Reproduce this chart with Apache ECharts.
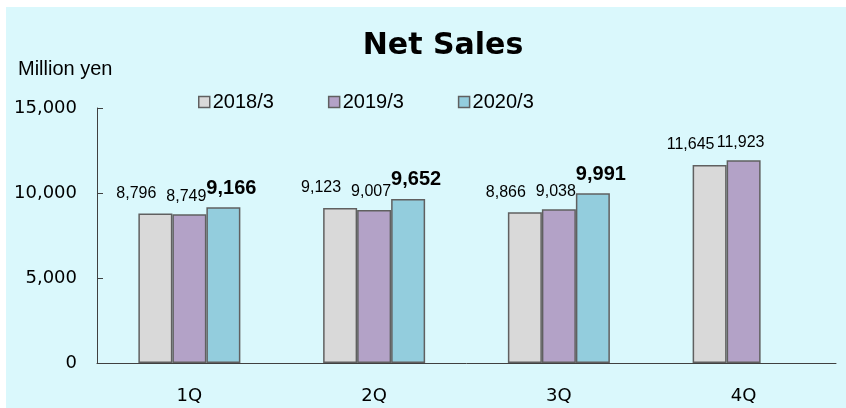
<!DOCTYPE html>
<html>
<head>
<meta charset="utf-8">
<script src="https://cdn.jsdelivr.net/npm/echarts@6/dist/echarts.min.js"></script>
<style>
  html, body { margin: 0; padding: 0; background: #fff; }
  #wrap { position: relative; width: 846px; height: 408px; background: #fff; }
  #chart { position: absolute; left: 6px; top: 7px; width: 840px; height: 401px; }
</style>
</head>
<body>
<div id="wrap"><div id="chart"></div></div>
<script>
// quarters and net sales per fiscal year (million yen)
const quarters = ['1Q', '2Q', '3Q', '4Q'];
const fy2018 = [8796, 9123, 8866, 11645];
const fy2019 = [8749, 9007, 9038, 11923];
const fy2020 = [9166, 9652, 9991, null];
const yTicks = [0, 5000, 10000, 15000];

const AXIS = '#404040';
const BORDER = '#606060';

const chart = echarts.init(document.getElementById('chart'), null, { renderer: 'canvas' });

function fmt(v) {
  return v.toLocaleString('en-US');
}

function bar(name, data, color, labelStyle) {
  return {
    name: name,
    type: 'bar',
    data: data,
    barWidth: 34,
    barGap: '0%',
    itemStyle: { color: color, borderColor: BORDER, borderWidth: 1.5 },
    label: Object.assign({
      show: true,
      position: 'top',
      color: '#000',
      fontFamily: 'Liberation Sans, Arial, sans-serif',
      fontSize: 16,
      formatter: p => (p.value == null ? '' : fmt(p.value))
    }, labelStyle)
  };
}

chart.setOption({
  backgroundColor: '#DAF8FC',
  animation: false,
  title: {
    text: 'Net Sales',
    left: 432,
    top: 19,
    textAlign: 'center',
    textStyle: { fontFamily: 'DejaVu Sans', fontWeight: 'bold', fontSize: 30, color: '#000' }
  },
  graphic: [{
    type: 'text',
    left: 12,
    top: 52,
    style: { text: 'Million yen', fontFamily: 'Liberation Sans, Arial', fontSize: 20, fill: '#000' }
  }],
  legend: {
    left: 187,
    top: 80,
    itemWidth: 11,
    itemHeight: 11,
    itemGap: 54,
    icon: 'rect',
    itemStyle: { borderColor: BORDER, borderWidth: 1.5 },
    textStyle: { fontFamily: 'Liberation Sans, Arial', fontSize: 20, color: '#000', padding: [0, 0, 0, -2] },
    data: ['2018/3', '2019/3', '2020/3']
  },
  grid: { left: 91, top: 101, right: 10, bottom: 45 },
  xAxis: {
    type: 'category',
    data: quarters,
    axisLine: { lineStyle: { color: AXIS, width: 1 } },
    axisTick: { inside: true, length: 6, lineStyle: { color: AXIS } },
    axisLabel: { fontFamily: 'DejaVu Sans', fontSize: 18, color: '#000', margin: 24 }
  },
  yAxis: {
    type: 'value',
    min: yTicks[0],
    max: yTicks[yTicks.length - 1],
    interval: yTicks[1] - yTicks[0],
    splitLine: { show: false },
    axisLine: { show: true, lineStyle: { color: AXIS, width: 1 } },
    axisTick: { show: true, inside: true, length: 6, lineStyle: { color: AXIS } },
    axisLabel: { fontFamily: 'DejaVu Sans', fontSize: 18, color: '#000', margin: 20, formatter: v => fmt(v) }
  },
  series: [
    bar('2018/3', fy2018, '#D9D9D9', { offset: [-19, -7] }),
    bar('2019/3', fy2019, '#B3A2C7', { offset: [-3, -5] }),
    bar('2020/3', fy2020, '#93CDDD', { offset: [8, -4], fontWeight: 'bold', fontSize: 20 })
  ]
});
</script>
</body>
</html>
